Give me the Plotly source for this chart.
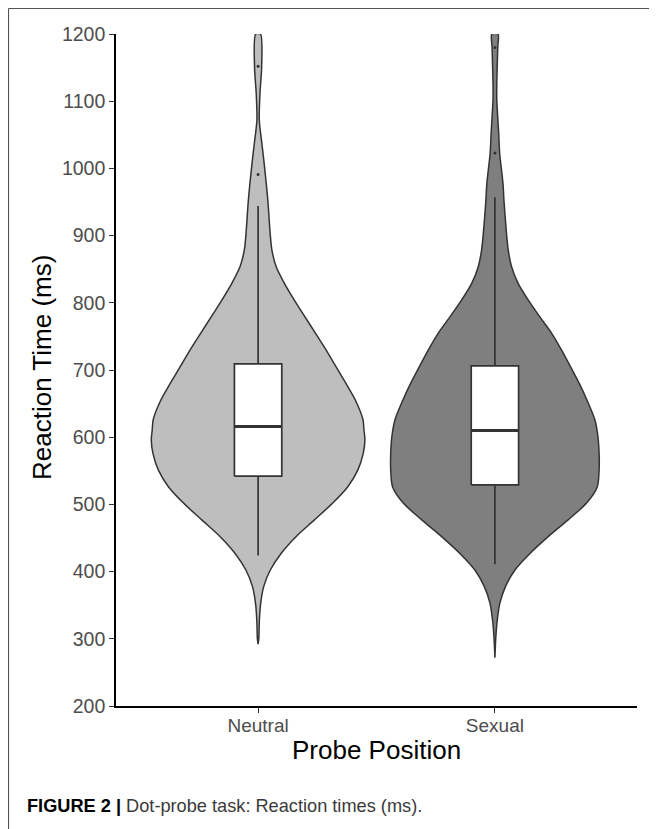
import plotly.graph_objects as go

# ---------------- data ----------------
categories = ["Neutral", "Sexual"]
positions = [1, 2]

# violin outline: reaction-time levels (ms) and half-width of density (x-axis units)
neutral_rt = [292, 300, 328, 353, 378, 402, 427, 452, 477, 502, 526, 551, 576, 596,
              611, 626, 655, 680, 705, 730, 755, 779, 804, 829, 854, 879, 903, 953,
              1003, 1037, 1072, 1112, 1151, 1200]
neutral_hw = [0.0, 0.003, 0.0055, 0.011, 0.024, 0.051, 0.097, 0.160, 0.238, 0.315,
              0.378, 0.421, 0.444, 0.451, 0.447, 0.443, 0.411, 0.371, 0.329, 0.287,
              0.242, 0.198, 0.153, 0.111, 0.076, 0.058, 0.051, 0.041, 0.027, 0.016,
              0.005, 0.008, 0.015, 0.010]

sexual_rt = [272, 303, 328, 353, 378, 402, 427, 452, 477, 502, 526, 551, 576, 601,
             626, 655, 680, 705, 730, 755, 779, 804, 829, 854, 879, 903, 953, 978,
             1023, 1052, 1102, 1127, 1180, 1200]
sexual_hw = [0.0, 0.004, 0.010, 0.021, 0.045, 0.084, 0.148, 0.225, 0.309, 0.387,
             0.432, 0.440, 0.440, 0.435, 0.422, 0.389, 0.356, 0.319, 0.281, 0.239,
             0.190, 0.141, 0.098, 0.070, 0.056, 0.049, 0.038, 0.034, 0.020, 0.016,
             0.008, 0.008, 0.012, 0.013]

# box-plot statistics (ms)
q1 = [542, 529]
median = [616, 610]
q3 = [709, 706]
lower_whisker = [424, 411]
upper_whisker = [944, 957]
outliers_neutral = [991, 1152]
outliers_sexual = [1023, 1180]

y_ticks = [200, 300, 400, 500, 600, 700, 800, 900, 1000, 1100, 1200]

# ---------------- styles ----------------
FONT = "Liberation Sans"
violin_fill = ["#bebebe", "#7f7f7f"]
OUTLINE = "#333333"
BOX_WIDTH = 0.2

fig = go.Figure()

# violins
for i, (rt, hw) in enumerate([(neutral_rt, neutral_hw), (sexual_rt, sexual_hw)]):
    c = positions[i]
    xs = [c + h for h in hw] + [c - h for h in reversed(hw)] + [c + hw[0]]
    ys = list(rt) + list(reversed(rt)) + [rt[0]]
    fig.add_trace(go.Scatter(
        x=xs, y=ys, mode="lines", fill="toself", fillcolor=violin_fill[i],
        line=dict(color=OUTLINE, width=1.5, shape="spline", smoothing=0.8),
        hoverinfo="skip", showlegend=False))

# boxes (drawn from the quartile data)
for i in range(2):
    c = positions[i]
    hwb = BOX_WIDTH / 2
    # whiskers
    fig.add_trace(go.Scatter(
        x=[c, c, None, c, c], y=[q3[i], upper_whisker[i], None, q1[i], lower_whisker[i]],
        mode="lines", line=dict(color=OUTLINE, width=1.7),
        showlegend=False, hoverinfo="skip"))
    # box
    fig.add_trace(go.Scatter(
        x=[c - hwb, c + hwb, c + hwb, c - hwb, c - hwb],
        y=[q1[i], q1[i], q3[i], q3[i], q1[i]],
        mode="lines", fill="toself", fillcolor="white",
        line=dict(color=OUTLINE, width=1.7),
        showlegend=False, hoverinfo="skip"))
    # median
    fig.add_trace(go.Scatter(
        x=[c - hwb, c + hwb], y=[median[i], median[i]], mode="lines",
        line=dict(color=OUTLINE, width=3), showlegend=False, hoverinfo="skip"))

for i, outs in enumerate([outliers_neutral, outliers_sexual]):
    fig.add_trace(go.Scatter(
        x=[positions[i]] * len(outs), y=outs, mode="markers",
        marker=dict(color=OUTLINE, size=3), showlegend=False, hoverinfo="skip",
        cliponaxis=False))

# page has an 8px body margin: screenshot coordinate = figure coordinate + 8
OFF = 8
W, H = 657 - OFF, 829 - OFF
L, R, T, B = 116 - OFF, 657 - 637, 34 - OFF, 829 - 706
pw, ph = W - L - R, H - T - B


def px(x):
    return (x - OFF - L) / pw


def py(y):
    return (H - B - (y - OFF)) / ph


fig.update_layout(
    width=W, height=H,
    margin=dict(l=L, r=R, t=T, b=B),
    paper_bgcolor="white", plot_bgcolor="white",
    font=dict(family=FONT, color="#4d4d4d"),
    xaxis=dict(range=[0.4, 2.6], tickvals=positions, ticktext=categories,
               showgrid=False, zeroline=False, showline=True, linecolor="black",
               linewidth=1.6, ticks="outside", ticklen=5, tickcolor="#333333",
               tickwidth=1.2, ticklabelstandoff=-4,
               tickfont=dict(size=19, color="#4d4d4d", family=FONT)),
    yaxis=dict(range=[200, 1200], tickvals=y_ticks,
               showgrid=False, zeroline=False, showline=True, linecolor="black",
               linewidth=1.6, ticks="outside", ticklen=5, tickcolor="#333333",
               tickwidth=1.2, tickfont=dict(size=19.5, color="#4d4d4d", family=FONT)),
    showlegend=False,
)

fig.add_annotation(text="Reaction Time (ms)", xref="paper", yref="paper",
                   x=px(42), y=py(368), textangle=-90, showarrow=False,
                   xanchor="center", yanchor="middle",
                   font=dict(size=26, color="black", family=FONT))
fig.add_annotation(text="Probe Position", xref="paper", yref="paper",
                   x=px(376), y=py(750), showarrow=False,
                   xanchor="center", yanchor="middle",
                   font=dict(size=26, color="black", family=FONT))
fig.add_annotation(text="<b>FIGURE 2 |</b> <span style='color:#3a3a3a'>Dot-probe task: Reaction times (ms).</span>",
                   xref="paper", yref="paper", x=px(25), y=py(806),
                   showarrow=False, xanchor="left", yanchor="middle",
                   font=dict(size=18.2, color="black", family=FONT))

# frame lines (left and top)
fig.add_shape(type="line", xref="paper", yref="paper",
              x0=px(8.5), x1=px(8.5), y0=py(8.5), y1=py(840),
              line=dict(color="#555555", width=1.2))
fig.add_shape(type="line", xref="paper", yref="paper",
              x0=px(8.5), x1=px(670), y0=py(8.5), y1=py(8.5),
              line=dict(color="#555555", width=1.2))

fig.write_html("out.html")
